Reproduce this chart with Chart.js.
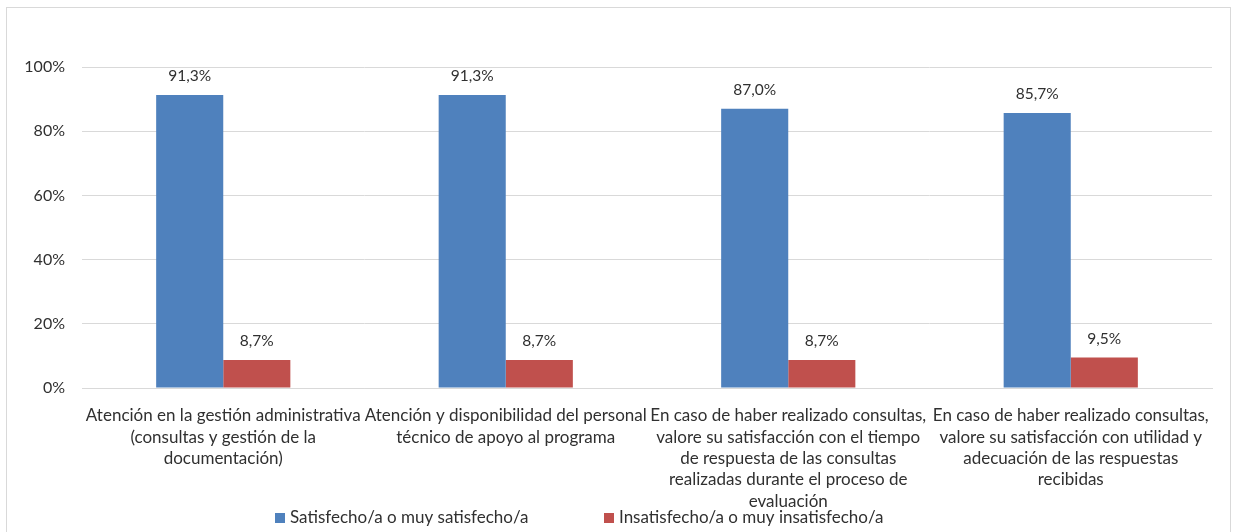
<!DOCTYPE html>
<html>
<head>
<meta charset="utf-8">
<script src="https://cdn.jsdelivr.net/npm/chart.js@4"></script>
<style>
  html, body { margin: 0; padding: 0; background: #fff; }
  #wrap { position: relative; width: 1238px; height: 532px; overflow: hidden; }
  #frame { position: absolute; left: 6px; top: 7px; width: 1225px; height: 540px; border: 1px solid #d9d9d9; box-sizing: border-box; }
  canvas { position: absolute; left: 0; top: 0; }
</style>
</head>
<body>
<div id="wrap">
  <div id="frame"></div>
  <canvas id="chart" width="1238" height="532"></canvas>
</div>
<script>
const categories = [
  ["Atención en la gestión administrativa", "(consultas y gestión de la", "documentación)"],
  ["Atención y disponibilidad del personal", "técnico de apoyo al programa"],
  ["En caso de haber realizado consultas,", "valore su satisfacción con el tiempo", "de respuesta de las consultas", "realizadas durante el proceso de", "evaluación"],
  ["En caso de haber realizado consultas,", "valore su satisfacción con utilidad y", "adecuación de las respuestas", "recibidas"]
];
const satisfied = [91.3, 91.3, 87.0, 85.7];
const unsatisfied = [8.7, 8.7, 8.7, 9.5];
const seriesNames = ["Satisfecho/a o muy satisfecho/a", "Insatisfecho/a o muy insatisfecho/a"];
const yTicks = [0, 20, 40, 60, 80, 100];

const FONT = "Lato, 'Noto Sans', sans-serif";
const TEXT = "#303030";

// value labels above each bar, comma decimal
const valueLabels = {
  id: "valueLabels",
  afterDatasetsDraw(chart) {
    const ctx = chart.ctx;
    ctx.save();
    ctx.font = "15.5px " + FONT;
    ctx.fillStyle = TEXT;
    ctx.textAlign = "center";
    ctx.textBaseline = "middle";
    chart.data.datasets.forEach((ds, i) => {
      chart.getDatasetMeta(i).data.forEach((bar, j) => {
        const txt = ds.data[j].toFixed(1).replace(".", ",") + "%";
        ctx.fillText(txt, bar.x, bar.y - 19);
      });
    });
    ctx.restore();
  }
};

// legend row under the axis labels
const legendRow = {
  id: "legendRow",
  afterDraw(chart) {
    const ctx = chart.ctx;
    const starts = [275, 604];
    const y = 518;
    ctx.save();
    ctx.font = "17px " + FONT;
    ctx.textBaseline = "middle";
    ctx.textAlign = "left";
    chart.data.datasets.forEach((ds, i) => {
      ctx.fillStyle = ds.backgroundColor;
      ctx.fillRect(starts[i], y - 5, 10, 10);
      ctx.fillStyle = TEXT;
      ctx.fillText(ds.label, starts[i] + 15, y);
    });
    ctx.restore();
  }
};

new Chart(document.getElementById("chart").getContext("2d"), {
  type: "bar",
  data: {
    labels: categories,
    datasets: [
      { label: seriesNames[0], data: satisfied, backgroundColor: "#4F81BD" },
      { label: seriesNames[1], data: unsatisfied, backgroundColor: "#C0504D" }
    ]
  },
  options: {
    responsive: false,
    animation: false,
    layout: { padding: { top: 67, right: 26, left: 0, bottom: 0 } },
    datasets: { bar: { categoryPercentage: 0.475, barPercentage: 1 } },
    scales: {
      x: {
        grid: { display: false },
        border: { color: "#d9d9d9" },
        ticks: {
          color: TEXT,
          font: { family: FONT, size: 17, lineHeight: 1.26 },
          padding: 9,
          maxRotation: 0,
          autoSkip: false
        },
        afterFit: (s) => { s.height = 144; }
      },
      y: {
        min: 0,
        max: 100,
        afterBuildTicks: (s) => { s.ticks = yTicks.map(v => ({ value: v })); },
        grid: { color: "#d9d9d9", drawTicks: false },
        border: { display: false },
        ticks: {
          color: TEXT,
          font: { family: FONT, size: 16 },
          padding: 17,
          callback: (v) => v + "%"
        },
        afterFit: (s) => { s.width = 82; }
      }
    },
    plugins: {
      legend: { display: false },
      tooltip: { enabled: false }
    }
  },
  plugins: [valueLabels, legendRow]
});
</script>
</body>
</html>
